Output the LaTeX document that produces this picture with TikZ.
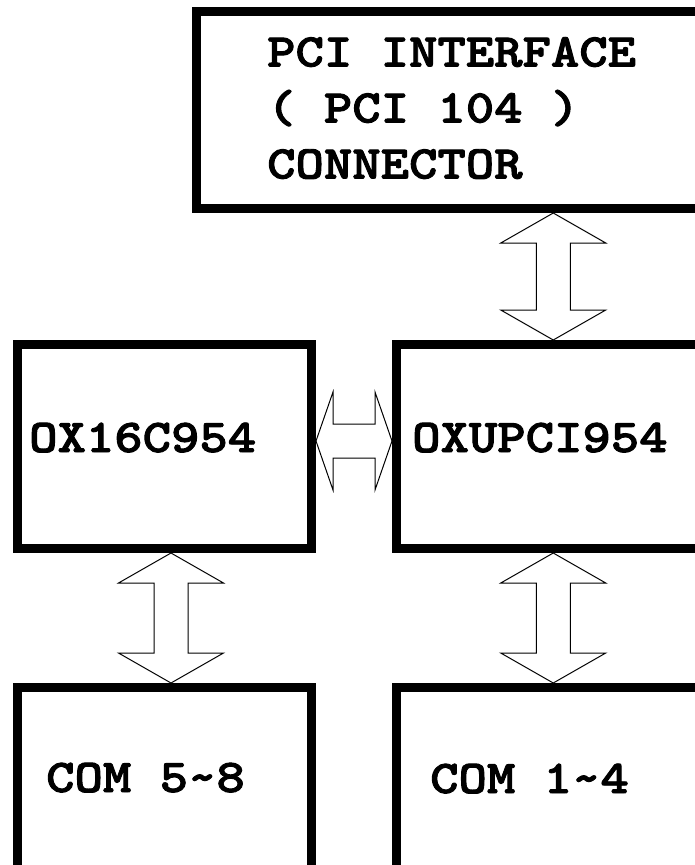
\documentclass[tikz,border=0pt]{standalone}
\usepackage{fontspec}
\newfontfamily\boxfont{lmmonolt10-bold.otf}[FakeStretch=1.15,FakeBold=2]
\usetikzlibrary{calc}

% hollow double-headed arrow: from, to, head length, head half width
\newcommand{\hollowlink}[4]{%
  \draw[link] (#1) -- ($(#1)!#3!(#2)!#4!90:(#2)$) -- ($(#1)!#3!(#2)!17pt!90:(#2)$)
    -- ($(#2)!#3!(#1)!17pt!-90:(#1)$) -- ($(#2)!#3!(#1)!#4!-90:(#1)$) -- (#2)
    -- ($(#2)!#3!(#1)!#4!90:(#1)$) -- ($(#2)!#3!(#1)!17pt!90:(#1)$)
    -- ($(#1)!#3!(#2)!17pt!-90:(#2)$) -- ($(#1)!#3!(#2)!#4!-90:(#2)$) -- cycle;}

\tikzset{
  box/.style  = {draw=black, line width=9pt, inner sep=0pt},
  txt/.style  = {font=\boxfont\fontsize{47}{56}\selectfont, inner sep=0pt, text=black, align=left},
  link/.style = {draw=black, fill=white, line width=1pt, line join=miter},
}

\begin{document}
\begin{tikzpicture}[x=1pt,y=-1pt]
  \useasboundingbox (0,0) rectangle (695,865);
  \clip (0,0) rectangle (695,865);

  \node[box, minimum width=513.5pt, minimum height=197pt] (pci) at (453.25,110) {};
  \node[box, minimum width=294pt, minimum height=204pt] (lbox) at (164.5,446.5) {};
  \node[box, minimum width=313.5pt, minimum height=204pt] (rbox) at (553.25,446.5) {};
  \node[box, minimum width=294pt, minimum height=204pt] (com58) at (164.5,789.5) {};
  \node[box, minimum width=313.5pt, minimum height=204pt] (com14) at (553.25,789.5) {};

  \node[txt, anchor=north west] (pcitxt) at (267,37) {PCI INTERFACE\\( PCI 104 )\\CONNECTOR};
  \node[txt, anchor=base west] (ltxt) at (29,452) {OX16C954};
  \node[txt, anchor=base west] (rtxt) at (412,452) {OXUPCI954};
  \node[txt, anchor=base west] (c58txt) at (46,792) {COM 5\textasciitilde 8};
  \node[txt, anchor=base west] (c14txt) at (430,793) {COM 1\textasciitilde 4};

  \coordinate (t1) at (pci.south -| rbox.north);
  \coordinate (h1) at ($(lbox.east)+(0,-5.5)$);
  \coordinate (h2) at ($(rbox.west)+(0,-5.5)$);
  \coordinate (v1) at ($(lbox.south)+(6.5,0)$);
  \coordinate (v2) at ($(com58.north)+(6.5,0)$);

  \hollowlink{t1}{rbox.north}{30pt}{52.5pt}
  \hollowlink{h1}{h2}{17pt}{49pt}
  \hollowlink{v1}{v2}{30pt}{52.5pt}
  \hollowlink{rbox.south}{com14.north}{30pt}{52.5pt}
\end{tikzpicture}
\end{document}
